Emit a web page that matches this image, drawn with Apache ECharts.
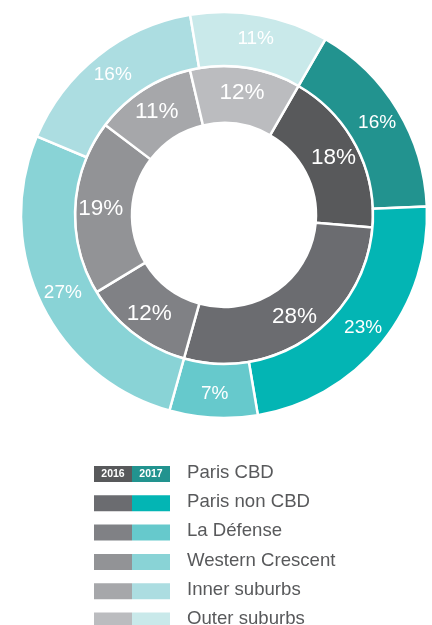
<!DOCTYPE html>
<html>
<head>
<meta charset="utf-8">
<script src="https://cdn.jsdelivr.net/npm/echarts@6/dist/echarts.min.js"></script>
<style>
  html, body { margin: 0; padding: 0; background: #fff; }
  #chart { width: 432px; height: 625px; }
</style>
</head>
<body>
<div id="chart"></div>
<script>
// market segments, 2016 (inner ring) and 2017 (outer ring)
const categories = ['Paris CBD', 'Paris non CBD', 'La Défense', 'Western Crescent', 'Inner suburbs', 'Outer suburbs']
const values2016 = [18, 28, 12, 19, 11, 12]
const values2017 = [16, 23, 7, 27, 16, 11]
const years = ['2016', '2017']

const colors2016 = ['#58595b', '#6b6c70', '#808185', '#929396', '#a6a7aa', '#bbbcbf']
const colors2017 = ['#22938f', '#03b5b4', '#66c9cc', '#89d3d6', '#acdde1', '#c9e9ea']

const font = 'Arial, "Liberation Sans", sans-serif'
const center = [224, 215]

function ringData(values, colors) {
  return values.map((v, i) => ({ name: categories[i], value: v, itemStyle: { color: colors[i] } }))
}

// legend drawn as graphic: split swatch (2016 | 2017) + label
const legendX = 94
const legendY = 466
const rowGap = 29.3
const legendGraphic = []
categories.forEach((name, i) => {
  const y = legendY + i * rowGap
  legendGraphic.push(
    { type: 'rect', left: legendX, top: y, shape: { width: 38, height: 16 }, style: { fill: colors2016[i] } },
    { type: 'rect', left: legendX + 38, top: y, shape: { width: 38, height: 16 }, style: { fill: colors2017[i] } },
    { type: 'text', left: 187, top: y - 3, style: { text: name, fill: '#58595b', font: '18.6px ' + font } }
  )
})
years.forEach((yr, j) => {
  legendGraphic.push({
    type: 'text', x: legendX + 19 + j * 38, y: legendY + 8.5,
    style: { text: yr, fill: '#fff', font: 'bold 10.5px ' + font, align: 'center', verticalAlign: 'middle' }
  })
})

const chart = echarts.init(document.getElementById('chart'))
chart.setOption({
  animation: false,
  series: [
    {
      name: '2016',
      type: 'pie',
      center: center,
      radius: [92, 149],
      startAngle: 60,
      clockwise: true,
      silent: true,
      data: ringData(values2016, colors2016),
      itemStyle: { borderColor: '#fff', borderWidth: 2.5 },
      label: { position: 'inside', formatter: '{c}%', color: '#fff', fontSize: 22.5, fontFamily: font },
      labelLine: { show: false },
    },
    {
      name: '2017',
      type: 'pie',
      center: center,
      radius: [149, 203],
      startAngle: 60,
      clockwise: true,
      silent: true,
      data: ringData(values2017, colors2017),
      itemStyle: { borderColor: '#fff', borderWidth: 2.5 },
      label: { position: 'inside', formatter: '{c}%', color: '#fff', fontSize: 19, fontFamily: font },
      labelLine: { show: false },
    },
  ],
  graphic: legendGraphic,
})
</script>
</body>
</html>
